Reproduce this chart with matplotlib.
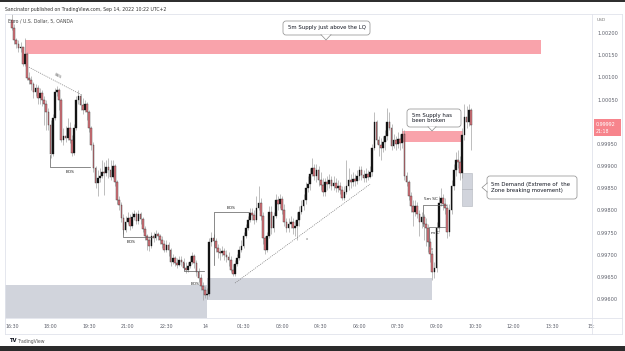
import matplotlib
matplotlib.use("Agg")
import matplotlib.pyplot as plt
import matplotlib.transforms as mtransforms
from matplotlib.patches import Rectangle, FancyBboxPatch, Polygon
from matplotlib.lines import Line2D
import numpy as np

# ---------------- data (EUR/USD, 5-minute candles from 16:30) ----------------
first_open = 1.00229
closes = [
    1.00211, 1.00184, 1.00175, 1.00166, 1.00168, 1.00130, 1.00153, 1.00098, 1.00094, 1.00085,
    1.00067, 1.00076, 1.00053, 1.00065, 1.00049, 1.00040, 1.00022, 0.99992, 0.99927, 1.00008,
    1.00067, 1.00071, 1.00049, 0.99959, 0.99968, 0.99963, 0.99986, 0.99959, 0.99929, 0.99986,
    1.00049, 1.00058, 1.00038, 1.00026, 1.00040, 1.00022, 0.99986, 0.99947, 0.99896, 0.99862,
    0.99873, 0.99878, 0.99887, 0.99884, 0.99898, 0.99891, 0.99875, 0.99900, 0.99864, 0.99823,
    0.99812, 0.99783, 0.99756, 0.99774, 0.99783, 0.99765, 0.99785, 0.99792, 0.99776, 0.99792,
    0.99780, 0.99758, 0.99742, 0.99733, 0.99720, 0.99742, 0.99738, 0.99747, 0.99742, 0.99733,
    0.99724, 0.99711, 0.99722, 0.99711, 0.99684, 0.99693, 0.99681, 0.99677, 0.99688, 0.99684,
    0.99670, 0.99666, 0.99674, 0.99684, 0.99697, 0.99681, 0.99661, 0.99647, 0.99629, 0.99620,
    0.99609, 0.99611, 0.99729, 0.99738, 0.99731, 0.99715, 0.99706, 0.99704, 0.99708, 0.99699,
    0.99695, 0.99688, 0.99666, 0.99656, 0.99679, 0.99693, 0.99711, 0.99720, 0.99742, 0.99760,
    0.99778, 0.99794, 0.99790, 0.99778, 0.99805, 0.99817, 0.99787, 0.99738, 0.99711, 0.99742,
    0.99796, 0.99760, 0.99787, 0.99823, 0.99814, 0.99826, 0.99801, 0.99774, 0.99760, 0.99769,
    0.99774, 0.99760, 0.99765, 0.99778, 0.99796, 0.99810, 0.99823, 0.99850, 0.99859, 0.99882,
    0.99896, 0.99878, 0.99891, 0.99868, 0.99857, 0.99841, 0.99864, 0.99859, 0.99868, 0.99855,
    0.99862, 0.99850, 0.99855, 0.99846, 0.99828, 0.99841, 0.99855, 0.99868, 0.99864, 0.99871,
    0.99866, 0.99878, 0.99891, 0.99880, 0.99873, 0.99882, 0.99875, 0.99887, 0.99941, 0.99999,
    0.99959, 0.99947, 0.99941, 0.99954, 0.99968, 0.99999, 0.99986, 0.99945, 0.99959, 0.99950,
    0.99961, 0.99952, 0.99972, 0.99878, 0.99864, 0.99832, 0.99810, 0.99796, 0.99810, 0.99792,
    0.99774, 0.99785, 0.99769, 0.99760, 0.99729, 0.99702, 0.99661, 0.99670, 0.99760, 0.99817,
    0.99828, 0.99814, 0.99805, 0.99751, 0.99801, 0.99855, 0.99891, 0.99914, 0.99909, 0.99884,
    0.99970, 1.00011, 0.99999, 1.00026, 0.99992,
]
highs = [
    1.00243, 1.00220, 1.00189, 1.00184, 1.00180, 1.00166, 1.00189, 1.00157, 1.00112, 1.00103,
    1.00089, 1.00085, 1.00083, 1.00076, 1.00071, 1.00058, 1.00049, 1.00031, 1.00004, 1.00017,
    1.00076, 1.00080, 1.00076, 1.00053, 0.99986, 0.99990, 1.00008, 0.99999, 0.99970, 0.99995,
    1.00058, 1.00071, 1.00062, 1.00053, 1.00049, 1.00044, 1.00026, 0.99990, 0.99954, 0.99900,
    0.99891, 0.99896, 0.99914, 0.99909, 0.99914, 0.99918, 0.99914, 0.99914, 0.99905, 0.99868,
    0.99832, 0.99819, 0.99792, 0.99787, 0.99796, 0.99792, 0.99796, 0.99801, 0.99796, 0.99801,
    0.99796, 0.99785, 0.99765, 0.99747, 0.99742, 0.99751, 0.99751, 0.99756, 0.99751, 0.99747,
    0.99742, 0.99733, 0.99733, 0.99729, 0.99715, 0.99702, 0.99697, 0.99693, 0.99697, 0.99697,
    0.99693, 0.99684, 0.99684, 0.99697, 0.99706, 0.99702, 0.99688, 0.99670, 0.99656, 0.99638,
    0.99629, 0.99625, 0.99738, 0.99751, 0.99747, 0.99738, 0.99724, 0.99715, 0.99720, 0.99715,
    0.99711, 0.99706, 0.99697, 0.99679, 0.99688, 0.99702, 0.99720, 0.99733, 0.99751, 0.99769,
    0.99787, 0.99805, 0.99805, 0.99801, 0.99832, 0.99855, 0.99828, 0.99796, 0.99742, 0.99751,
    0.99810, 0.99810, 0.99796, 0.99837, 0.99832, 0.99837, 0.99832, 0.99814, 0.99783, 0.99783,
    0.99787, 0.99783, 0.99778, 0.99796, 0.99810, 0.99823, 0.99837, 0.99864, 0.99878, 0.99896,
    0.99918, 0.99905, 0.99905, 0.99900, 0.99887, 0.99873, 0.99873, 0.99878, 0.99882, 0.99878,
    0.99878, 0.99873, 0.99868, 0.99864, 0.99855, 0.99855, 0.99914, 0.99896, 0.99882, 0.99887,
    0.99882, 0.99891, 0.99900, 0.99900, 0.99891, 0.99896, 0.99891, 0.99900, 0.99950, 1.00022,
    1.00004, 0.99968, 0.99963, 0.99968, 0.99981, 1.00031, 1.00022, 0.99995, 0.99972, 0.99968,
    0.99977, 0.99972, 0.99986, 0.99981, 0.99887, 0.99868, 0.99841, 0.99823, 0.99823, 0.99819,
    0.99801, 0.99796, 0.99792, 0.99783, 0.99769, 0.99738, 0.99711, 0.99684, 0.99774, 0.99832,
    0.99850, 0.99837, 0.99828, 0.99814, 0.99814, 0.99868, 0.99905, 0.99932, 0.99936, 0.99923,
    0.99986, 1.00040, 1.00035, 1.00040, 1.00031,
]
lows = [
    1.00207, 1.00175, 1.00166, 1.00157, 1.00157, 1.00126, 1.00126, 1.00094, 1.00085, 1.00071,
    1.00053, 1.00058, 1.00040, 1.00040, 1.00035, 0.99992, 0.99981, 0.99981, 0.99918, 0.99923,
    1.00004, 1.00058, 1.00026, 0.99954, 0.99947, 0.99954, 0.99959, 0.99952, 0.99923, 0.99925,
    0.99981, 1.00040, 1.00026, 1.00017, 1.00022, 1.00004, 0.99977, 0.99936, 0.99887, 0.99850,
    0.99832, 0.99864, 0.99873, 0.99835, 0.99878, 0.99873, 0.99868, 0.99873, 0.99855, 0.99814,
    0.99801, 0.99774, 0.99747, 0.99751, 0.99769, 0.99756, 0.99760, 0.99778, 0.99769, 0.99769,
    0.99769, 0.99751, 0.99733, 0.99711, 0.99708, 0.99715, 0.99729, 0.99733, 0.99733, 0.99724,
    0.99715, 0.99706, 0.99706, 0.99697, 0.99674, 0.99679, 0.99674, 0.99670, 0.99674, 0.99674,
    0.99666, 0.99659, 0.99661, 0.99670, 0.99679, 0.99670, 0.99652, 0.99638, 0.99620, 0.99598,
    0.99602, 0.99600, 0.99607, 0.99720, 0.99720, 0.99706, 0.99693, 0.99688, 0.99697, 0.99688,
    0.99684, 0.99674, 0.99661, 0.99652, 0.99652, 0.99674, 0.99688, 0.99706, 0.99715, 0.99738,
    0.99756, 0.99774, 0.99778, 0.99769, 0.99774, 0.99801, 0.99778, 0.99724, 0.99702, 0.99706,
    0.99738, 0.99747, 0.99751, 0.99783, 0.99801, 0.99805, 0.99792, 0.99765, 0.99751, 0.99751,
    0.99760, 0.99747, 0.99742, 0.99733, 0.99765, 0.99792, 0.99801, 0.99814, 0.99841, 0.99846,
    0.99878, 0.99868, 0.99864, 0.99855, 0.99846, 0.99832, 0.99832, 0.99846, 0.99850, 0.99846,
    0.99846, 0.99841, 0.99841, 0.99837, 0.99823, 0.99823, 0.99837, 0.99846, 0.99850, 0.99855,
    0.99855, 0.99859, 0.99868, 0.99868, 0.99864, 0.99864, 0.99868, 0.99873, 0.99878, 0.99936,
    0.99950, 0.99923, 0.99914, 0.99932, 0.99936, 0.99959, 0.99981, 0.99936, 0.99941, 0.99936,
    0.99941, 0.99936, 0.99941, 0.99868, 0.99855, 0.99823, 0.99796, 0.99765, 0.99787, 0.99783,
    0.99742, 0.99760, 0.99733, 0.99720, 0.99706, 0.99684, 0.99643, 0.99647, 0.99661, 0.99751,
    0.99810, 0.99801, 0.99792, 0.99738, 0.99742, 0.99792, 0.99846, 0.99878, 0.99896, 0.99868,
    0.99873, 0.99959, 0.99986, 0.99990, 0.99936,
]
time_labels = ["16:30", "18:00", "19:30", "21:00", "22:30", "14", "01:30", "03:00",
               "04:30", "06:00", "07:30", "09:00", "10:30", "12:00", "13:30", "15:"]
time_label_bars = [0, 18, 36, 54, 72, 90, 108, 126, 144, 162, 180, 198, 216, 234, 252, 270]
price_ticks = [0.99600, 0.99650, 0.99700, 0.99750, 0.99800, 0.99850, 0.99900,
               0.99950, 1.00000, 1.00050, 1.00100, 1.00150, 1.00200]
last_price_text = "0.99992"
countdown_text = "21:18"

# ---------------- figure ----------------
W, H = 625, 351
fig = plt.figure(figsize=(W / 100, H / 100), dpi=100)
fig.patch.set_facecolor("white")
pix = mtransforms.Affine2D().scale(1.0 / W, -1.0 / H).translate(0, 1) + fig.transFigure

ax = fig.add_axes([5 / W, 1 - 318 / H, 587 / W, 304 / H])
ax.set_facecolor("white")
ax.set_xlim(-3.26, 270.5)
ax.set_ylim(0.995572, 1.0024285)
for s in ax.spines.values():
    s.set_visible(False)

# zones
GRAY = "#d1d4dc"
ax.add_patch(Rectangle((-3.3, 0.99550), 94.3, 0.00082, fc=GRAY, ec="none", zorder=1))
ax.add_patch(Rectangle((91.0, 0.99598), 104.9, 0.00049, fc=GRAY, ec="none", zorder=1))
ax.add_patch(Rectangle((6.06, 1.00153), 240.6, 0.00031, fc="#f9a3ab", ec="none", zorder=1))
ax.add_patch(Rectangle((181.9, 0.99954), 28.5, 0.00025, fc="#f9a3ab", ec="none", zorder=1))
ax.add_patch(Rectangle((209.9, 0.99810), 4.7, 0.00074, fc=GRAY, ec="#b2b5be", lw=0.4, zorder=1))
ax.plot([209.9, 214.6], [0.99848, 0.99848], color="#a8abb3", lw=0.4, zorder=1.5)

# candles
n = len(closes)
idx = np.arange(n)
c = np.array(closes)
o = np.array([first_open] + closes[:-1])
hi = np.maximum(np.array(highs), np.maximum(o, c))
lo = np.minimum(np.array(lows), np.minimum(o, c))
up = c >= o
ax.vlines(idx, lo, hi, color="#9a9a9a", lw=0.45, zorder=2)
body_bottom = np.minimum(o, c)
body_h = np.abs(c - o)
ax.bar(idx[up], body_h[up], bottom=body_bottom[up], width=0.78,
       color="#131313", edgecolor="#131313", linewidth=0.25, zorder=3)
ax.bar(idx[~up], body_h[~up], bottom=body_bottom[~up], width=0.78,
       color="#de737b", edgecolor="#3a3a3a", linewidth=0.3, zorder=3)

# drawings
dot = dict(color="#7a7a7a", lw=0.5, ls=(0, (1.5, 1.5)), zorder=4)
ax.plot([7.9, 32.6], [1.00123, 1.00060], **dot)
ax.text(21.5, 1.00102, "SSS", fontsize=3, color="#555", rotation=-28,
        ha="center", va="center", zorder=5)
ax.plot([104.0, 167.0], [0.99636, 0.99859], **dot)
ax.text(137.6, 0.99735, "x", fontsize=2.6, color="#666", ha="center", va="center", zorder=5)

bos = dict(color="#5a5a5a", lw=0.5, zorder=4)
lab = dict(fontsize=3.1, color="#222", ha="center", va="center", zorder=5)
ax.plot([17.7, 17.7, 36.4], [0.99925, 0.99898, 0.99898], **bos)
ax.text(27.0, 0.99886, "BOS", **lab)
ax.plot([51.8, 51.8, 65.3], [0.99756, 0.99740, 0.99740], **bos)
ax.text(55.5, 0.99728, "BOS", **lab)
ax.plot([80.2, 80.2, 89.6], [0.99681, 0.99663, 0.99663], **bos)
ax.text(85.4, 0.99634, "BOS", **lab)
ax.plot([94.2, 94.2, 110.5], [0.99677, 0.99796, 0.99796], **bos)
ax.text(102.1, 0.99806, "BOS", **lab)
ax.plot([191.7, 191.7, 202.4], [0.99765, 0.99812, 0.99812], **bos)
ax.text(195.5, 0.99826, "5m SC", **lab)
ax.plot([194.5, 194.5, 202.0], [0.99720, 0.99762, 0.99762], **bos)
ax.text(197.5, 0.99750, "m C", **lab)
ax.text(195.9, 0.99713, "x", fontsize=2.6, color="#555", ha="center", va="center", zorder=5)

# axes ticks
ax.yaxis.tick_right()
ax.set_yticks(price_ticks)
ax.set_yticklabels([f"{p:.5f}" for p in price_ticks])
ax.tick_params(axis="y", length=0, pad=3.6, labelsize=3.6, labelcolor="#5d606b")
ax.set_xticks(time_label_bars)
ax.set_xticklabels(time_labels)
ax.tick_params(axis="x", length=0, pad=4.2, labelsize=3.4, labelcolor="#5d606b")

# ---------------- frame / page decorations (pixel coords) ----------------
def pline(xs, ys, color="#e0e3eb", lw=0.6, z=6):
    fig.add_artist(Line2D(xs, ys, transform=pix, color=color, lw=lw, zorder=z))

fig.add_artist(Rectangle((0, 0), W, 2.2, transform=pix, fc="#2f2f2f", ec="none", zorder=6))
fig.text(5, 9, "Sancinator published on TradingView.com, Sep 14, 2022 10:22 UTC+2",
         transform=pix, fontsize=3.3, color="#333", ha="left", va="center")
pline([5, 622], [14, 14])
pline([5, 5], [14, 334])
pline([622, 622], [14, 334])
pline([5, 622], [334, 334])
pline([592, 592], [14, 334])
pline([5, 622], [318, 318])
fig.text(8, 21, "Euro / U.S. Dollar, 5, OANDA", transform=pix, fontsize=3.3,
         color="#444", ha="left", va="center")
fig.text(597, 20, "USD", transform=pix, fontsize=3.2, color="#777", ha="left", va="center")

fig.text(9, 341, "TV", transform=pix, fontsize=3.8, color="#131722",
         ha="left", va="center", fontweight="bold")
fig.text(17, 341, "TradingView", transform=pix, fontsize=3.3, color="#555",
         ha="left", va="center")
fig.add_artist(Rectangle((0, 346), W, 5, transform=pix, fc="#2b2b2b", ec="none", zorder=6))

# last price label on the price scale
fig.add_artist(Rectangle((593.5, 119), 27.5, 17, transform=pix, fc="#f7848c", ec="none", zorder=7))
fig.text(596, 124, last_price_text, transform=pix, fontsize=3.5, color="white",
         ha="left", va="center", zorder=8)
fig.text(596, 131.5, countdown_text, transform=pix, fontsize=3.3, color="white",
         ha="left", va="center", zorder=8)

# callouts
def callout(x0, y0, w, h, text, tx, ty, ha, tri):
    fig.add_artist(FancyBboxPatch((x0, y0), w, h, transform=pix,
                                  boxstyle="round,pad=0,rounding_size=3",
                                  fc="white", ec="#8c8c8c", lw=0.5, zorder=8))
    fig.add_artist(Polygon(tri, closed=True, transform=pix, fc="white", ec="none", zorder=9))
    fig.add_artist(Line2D([tri[0][0], tri[1][0], tri[2][0]], [tri[0][1], tri[1][1], tri[2][1]],
                          transform=pix, color="#8c8c8c", lw=0.5, zorder=9))
    fig.text(tx, ty, text, transform=pix, fontsize=3.9, color="#131722",
             ha=ha, va="center", linespacing=1.15, zorder=10)

callout(283, 21, 87, 14, "5m Supply just above the LQ", 326.5, 28, "center",
        [(321, 34.6), (326, 40), (331, 34.6)])
callout(407, 109, 54, 18, "5m Supply has\nbeen broken", 412, 118, "left",
        [(428, 126.6), (432, 131), (436, 126.6)])
callout(487, 176, 90, 23, "5m Demand (Extreme of  the\nZone breaking movement)", 491, 187.5, "left",
        [(487.4, 183), (482, 187.5), (487.4, 192)])

fig.savefig("out.png", dpi=100, facecolor="white")
